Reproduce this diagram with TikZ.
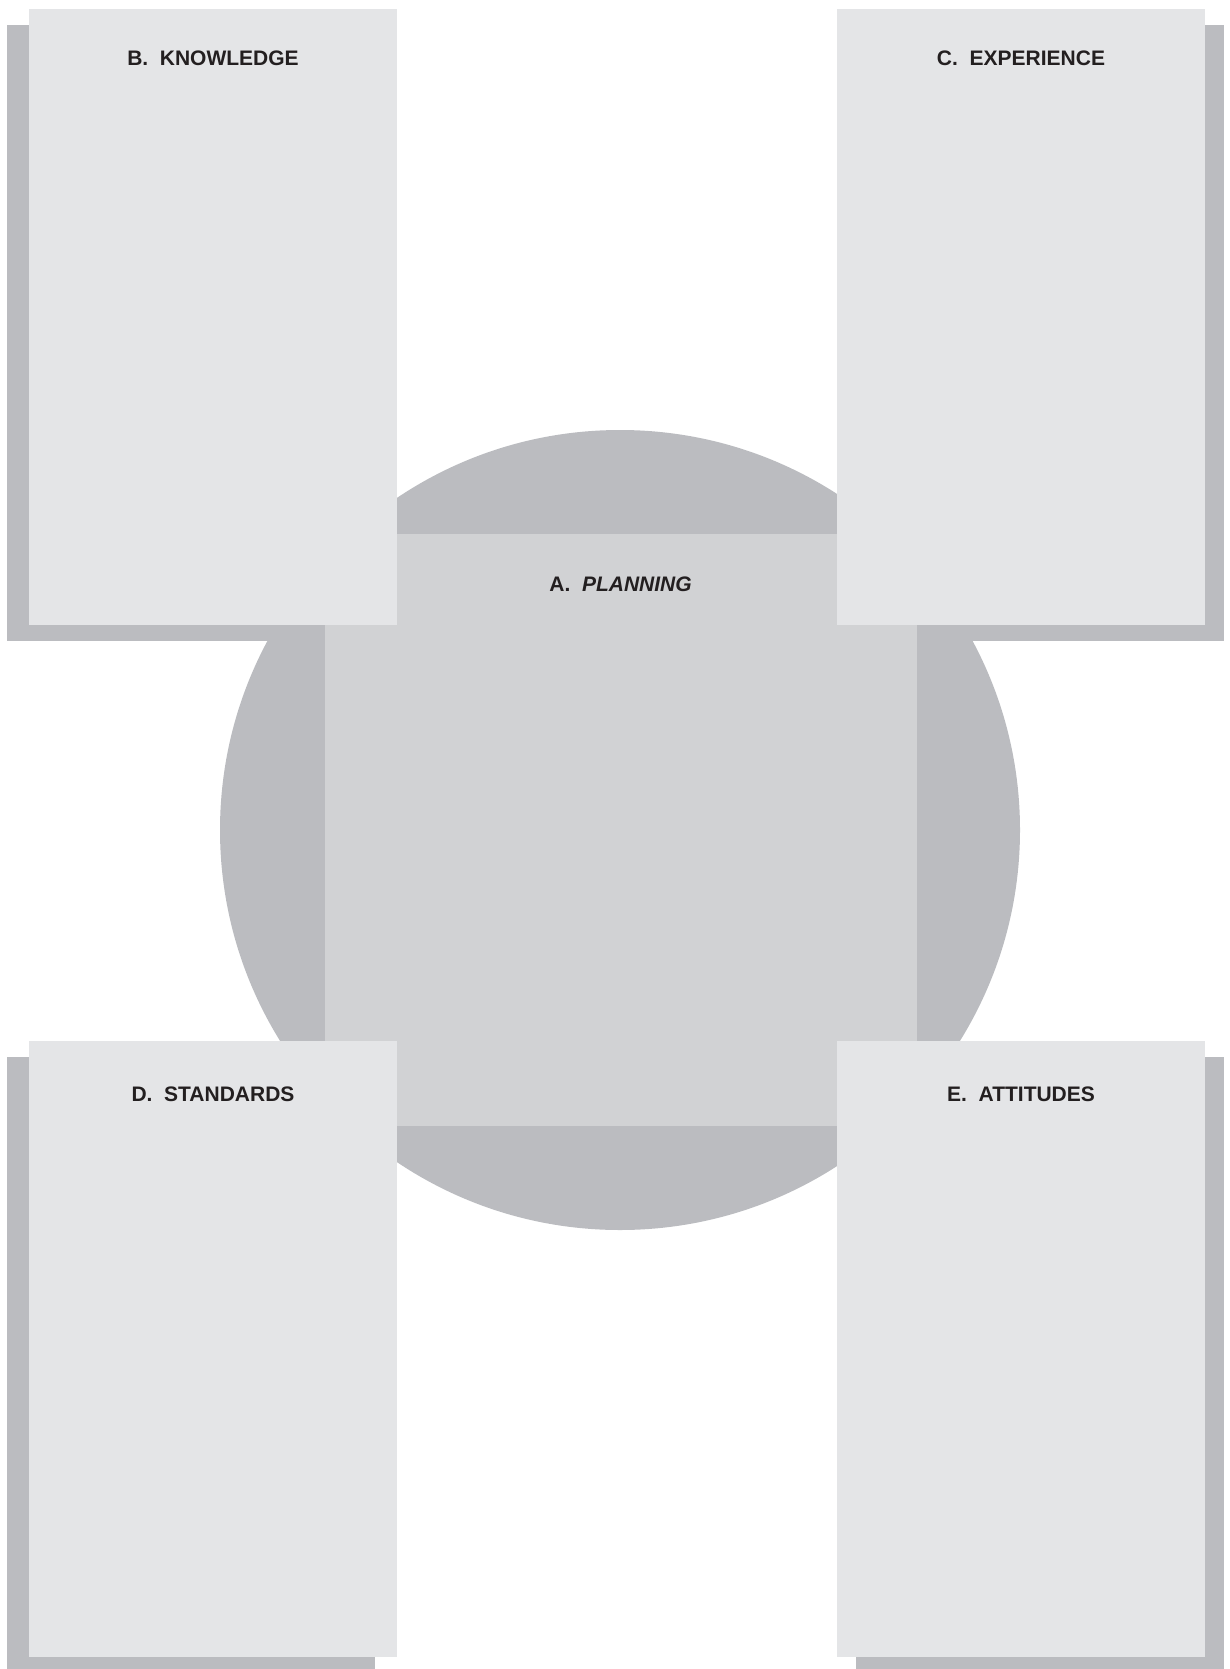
\documentclass[tikz,border=0pt]{standalone}
\usepackage{fontspec}
\setmainfont{Liberation Sans}
\usepackage{xcolor}
\usetikzlibrary{positioning}
\definecolor{panelgray}{HTML}{E4E5E7}
\definecolor{shadegray}{HTML}{BBBCC0}
\definecolor{centergray}{HTML}{D1D2D4}
\definecolor{inkgray}{HTML}{231F20}

\begin{document}
\begin{tikzpicture}[x=0.5pt,y=-0.5pt,
  panel/.style={fill=panelgray,minimum width=184pt,minimum height=308pt,inner sep=0pt},
  shade/.style={fill=shadegray,minimum width=184pt,minimum height=308pt,inner sep=0pt},
  title/.style={font=\bfseries\fontsize{10.5}{12}\selectfont,text=inkgray,inner sep=0pt,text height=7.5pt,text depth=0pt}]
\useasboundingbox (0,0) rectangle (1230,1669);
% disc behind the centre square
\node[circle,fill=shadegray,minimum size=400pt,inner sep=0pt] (disc) at (620,830) {};
% shadows of the four panels
\node[shade] (kbs) at (191,333) {};
\node[shade] (exs) at (1040,333) {};
\node[shade] (sts) at (191,1365) {};
\node[shade] (ats) at (1040,1365) {};
% centre square
\node[fill=centergray,minimum size=296pt,inner sep=0pt] (plan) at (620.5,830) {};
% panels
\node[panel] (know) at (213,317) {};
\node[panel] (expe) at (1021,317) {};
\node[panel] (stan) at (213,1349) {};
\node[panel] (atti) at (1021,1349) {};
% titles
\node[title,below=21.25pt of plan.north] (plant) {A.\ \ \itshape PLANNING};
\node[title,below=21pt of know.north] (knowt) {B.\ \ KNOWLEDGE};
\node[title,below=21pt of expe.north] (expet) {C.\ \ EXPERIENCE};
\node[title,below=22.75pt of stan.north] (stant) {D.\ \ STANDARDS};
\node[title,below=22.75pt of atti.north] (attit) {E.\ \ ATTITUDES};
\end{tikzpicture}
\end{document}
